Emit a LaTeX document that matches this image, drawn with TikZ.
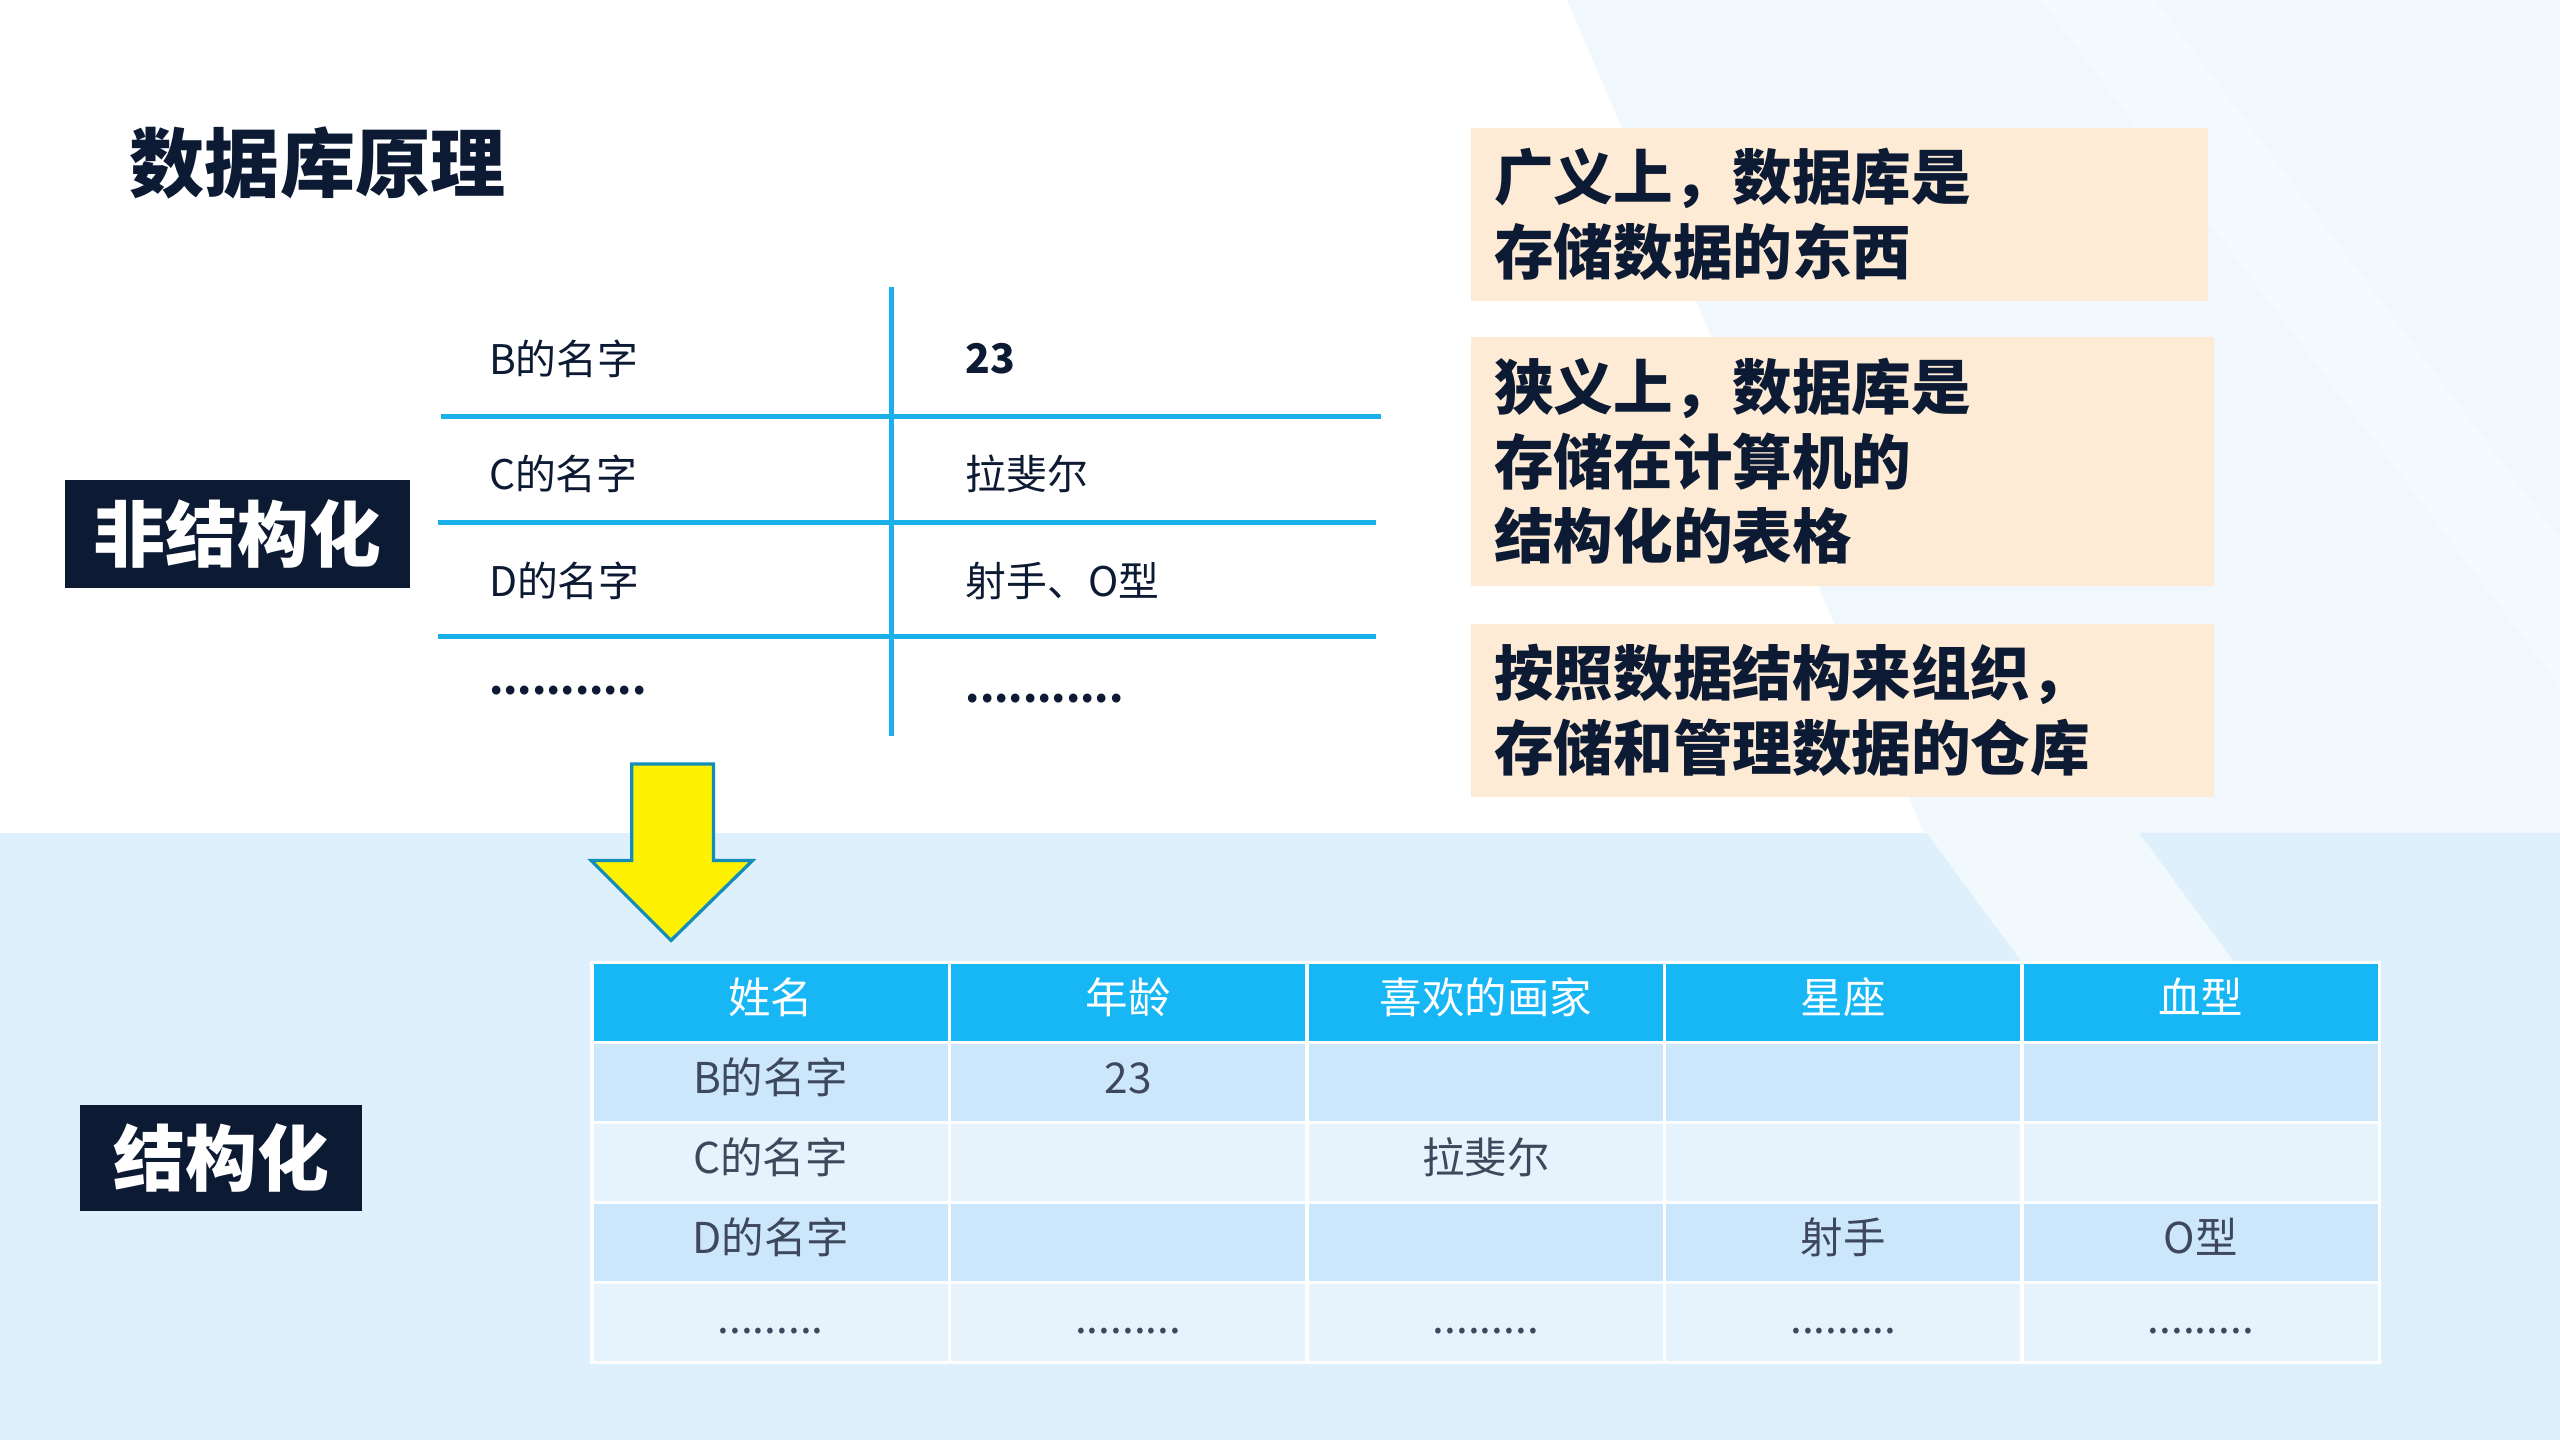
\documentclass[tikz,border=0pt]{standalone}
\usepackage{fontspec}
\setmainfont{Noto Sans CJK SC}
\usetikzlibrary{matrix,positioning}
\definecolor{lineblue}{HTML}{1AB0EA}
\definecolor{headblue}{HTML}{17B6F5}
\definecolor{rowa}{HTML}{CCE6FB}
\definecolor{rowb}{HTML}{E6F3FC}
\definecolor{darkbox}{HTML}{0C1A33}
\definecolor{peach}{HTML}{FDEBD5}
\definecolor{bgblue}{HTML}{DDF0FB}
\newcommand{\fs}[1]{\fontsize{#1}{1.25\dimexpr#1pt\relax}\selectfont}
\begin{document}
\begin{tikzpicture}[
x=1pt, y=-1pt,
tag/.style={
  fill=darkbox,
  text=white,
  inner sep=0pt,
  font=\fs{44}\bfseries
  },
note/.style={
  fill=peach,
  anchor=north west,
  align=left,
  inner xsep=14pt,
  inner ysep=4pt,
  font=\fs{36.5}\bfseries,
  text=darkbox
  },
cell/.style={
  anchor=west,
  font=\fs{25},
  text=darkbox
  },
grid/.style={
  matrix of nodes,
  nodes={
    draw=white,
    line width=2pt,
    minimum width=219pt,
    minimum height=49pt,
    text height=19pt,
    text depth=5pt,
    inner sep=0pt,
    font=\fs{26},
    text=darkbox!80
    },
  nodes in empty cells,
  column sep=-2pt,
  row sep=-2pt
  }
]
% background
\useasboundingbox (0,0) rectangle (1568,882);
\fill[white] (0,0) rectangle (1568,882);
\fill[bgblue!45] (960,0) -- (1568,0) -- (1568,560) -- (1200,560) -- cycle;
\fill[bgblue] (0,510) rectangle (1568,882);
\fill[white!70!bgblue] (1250,0) -- (1320,0) -- (1568,330) -- (1568,420) -- cycle;
\fill[white!60!bgblue] (1180,510) -- (1310,510) -- (1450,700) -- (1320,700) -- cycle;

\node[anchor=west, font=\fs{46}\bfseries, text=darkbox] (title) at (76,100) {数据库原理};

\node[tag, minimum width=211pt, minimum height=66pt] (unstr) at (145.5,327) {非结构化};
\node[tag, minimum width=173pt, minimum height=65pt] (str) at (135.5,709.5) {结构化};

% loose table
\draw[lineblue, line width=3pt] (546,176) -- (546,451);
\draw[lineblue, line width=3pt] (270,255) -- (846,255);
\draw[lineblue, line width=3pt] (268,320) -- (843,320);
\draw[lineblue, line width=3pt] (268,390) -- (843,390);
\node[cell] (b1) at (296,220) {B的名字};
\node[cell] (b2) at (588,220) {\bfseries 23};
\node[cell] (c1) at (296,290) {C的名字};
\node[cell] (c2) at (588,290) {拉斐尔};
\node[cell] (d1) at (296,356) {D的名字};
\node[cell] (d2) at (588,356) {射手、O型};
\node[cell] (e1) at (296,423) {\bfseries ...........};
\node[cell] (e2) at (588,428) {\bfseries ...........};

% arrow
\draw[fill=yellow, draw=lineblue!80!black, line width=2pt, line join=miter]
  (387,468) -- (437,468) -- (437,527) -- (461,527) -- (411,576)
  -- (362,527) -- (387,527) -- cycle;

% notes
\node[note, text width=423pt, minimum height=106pt] (n1) at (901,78)
  {广义上，数据库是\\存储数据的东西};
\node[note, text width=427pt, minimum height=153pt] (n2) at (901,206)
  {狭义上，数据库是\\存储在计算机的\\结构化的表格};
\node[note, text width=427pt, minimum height=106pt] (n3) at (901,382)
  {按照数据结构来组织，\\存储和管理数据的仓库};

% table
\matrix[grid, anchor=north west,
  row 1/.style={nodes={fill=headblue, text=white}},
  row 2/.style={nodes={fill=rowa}},
  row 3/.style={nodes={fill=rowb}},
  row 4/.style={nodes={fill=rowa}},
  row 5/.style={nodes={fill=rowb}}
] (tab) at (358,585)
{
姓名 & 年龄 & 喜欢的画家 & 星座 & 血型 \\
B的名字 & 23 & & & \\
C的名字 & & 拉斐尔 & & \\
D的名字 & & & 射手 & O型 \\
......... & ......... & ......... & ......... & ......... \\
};
\end{tikzpicture}
\end{document}
